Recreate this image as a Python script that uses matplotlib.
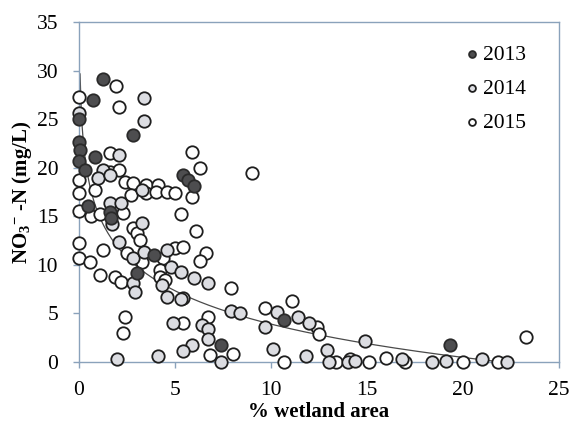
import numpy as np
import matplotlib
matplotlib.use("Agg")
import matplotlib.pyplot as plt

plt.rcParams['font.family'] = ['Liberation Serif', 'DejaVu Serif']
plt.rcParams['mathtext.fontset'] = 'custom'
plt.rcParams['mathtext.rm'] = 'Liberation Serif:bold'
plt.rcParams['mathtext.bf'] = 'Liberation Serif:bold'
plt.rcParams['mathtext.it'] = 'Liberation Serif:bold'

# ---- data ----
x2013 = [1.25, 0.73, 0.0, 0.0, 0.05, 0.0, 0.3, 0.83, 2.8, 5.4, 5.7, 6.0, 0.47, 1.6, 1.65, 3.9, 3.0, 7.4, 10.7, 19.3]
y2013 = [29.1, 27.0, 25.0, 22.6, 21.8, 20.7, 19.8, 21.1, 23.4, 19.3, 18.7, 18.1, 16.1, 15.4, 14.8, 11.0, 9.2, 1.8, 4.3, 1.8]

x2014 = [0.0, 3.4, 3.4, 2.1, 1.25, 1.0, 1.6, 3.3, 1.6, 2.2, 1.7, 3.3, 2.1, 2.8, 3.4, 4.6, 4.8, 5.3,
         2.8, 2.9, 4.3, 4.6, 5.3, 6.0, 6.7, 7.9, 8.4, 10.3, 11.4, 12.0, 9.7, 4.9, 6.4, 6.7, 6.7, 5.9,
         5.4, 4.1, 2.0, 7.4, 10.1, 11.8, 12.9, 13.0, 14.0, 14.4, 14.9, 16.8, 18.4, 19.1, 21.0, 22.3]
y2014 = [25.6, 27.2, 24.8, 21.3, 19.8, 18.9, 19.3, 17.7, 16.4, 16.4, 14.2, 14.3, 12.4, 10.7, 11.3, 11.5, 9.8, 9.3,
         8.1, 7.2, 7.9, 6.7, 6.5, 8.6, 8.1, 5.3, 5.0, 5.1, 4.6, 4.0, 3.6, 4.0, 3.8, 3.4, 2.4, 1.8,
         1.1, 0.6, 0.3, 0.0, 1.3, 0.6, 1.2, 0.0, 0.0, 0.1, 2.2, 0.3, 0.0, 0.1, 0.3, 0.0]

x2015 = [0.0, 1.93, 2.08, 1.6, 5.9, 6.3, 9.0, 1.6, 2.1, 0.0, 2.4, 2.8, 3.5, 4.1, 3.5, 4.0, 4.6, 5.0,
         2.7, 0.85, 0.0, 5.9, 0.0, 0.6, 1.1, 2.3, 5.3, 6.1, 2.8, 3.0, 3.2, 0.0, 0.0, 0.57, 1.25, 2.5,
         3.3, 5.0, 5.4, 6.6, 6.3, 4.4, 4.2, 4.2, 4.5, 1.9, 2.2, 1.1, 5.4, 7.9, 2.4, 2.3, 5.4, 6.7,
         8.0, 6.8, 9.7, 11.1, 12.4, 12.5, 10.7, 13.4, 14.1, 15.1, 16.0, 17.0, 20.0, 21.8, 23.3]
y2015 = [27.3, 28.4, 26.2, 21.5, 21.6, 20.0, 19.5, 19.6, 19.8, 18.7, 18.5, 18.4, 18.2, 18.2, 17.4, 17.5, 17.5, 17.4,
         17.2, 17.7, 17.4, 17.0, 15.5, 15.0, 15.2, 15.3, 15.2, 13.5, 13.8, 13.3, 12.6, 12.3, 10.7, 10.3, 11.5, 11.2,
         10.3, 11.7, 11.8, 11.2, 10.4, 10.7, 9.5, 8.8, 8.4, 8.8, 8.2, 9.0, 6.6, 7.6, 4.6, 3.0, 4.0, 4.6,
         0.8, 0.7, 5.6, 6.3, 3.6, 2.9, 0.0, 0.0, 0.35, 0.0, 0.4, 0.0, 0.0, 0.0, 2.6]

# logarithmic trend line: y = a - b ln(x)
trend_a = 15.3
trend_b = 4.95
trend_range = [0.055, 22.3]

series_labels = ['2013', '2014', '2015']
x_ticks = [0, 5, 10, 15, 20, 25]
y_ticks = [0, 5, 10, 15, 20, 25, 30, 35]

# ---- figure ----
fig = plt.figure(figsize=(5.82, 4.29), dpi=100)
ax = fig.add_axes([79/582, 1-362/429, (559-79)/582, (362-22)/429])

axis_col = '#8aa2bb'
edge_col = '#1e1e1e'

tx = np.linspace(trend_range[0], trend_range[1], 400)
ty = trend_a - trend_b * np.log(tx)
ax.plot(tx, ty, color='#4a4a4a', lw=0.9, zorder=2)

ms = 80
lw = 1.3
ax.scatter(x2015, y2015, s=ms, facecolor='white', edgecolor=edge_col, linewidth=lw, zorder=3, clip_on=False, label=series_labels[2])
ax.scatter(x2014, y2014, s=ms, facecolor='#dcdde2', edgecolor=edge_col, linewidth=lw, zorder=4, clip_on=False, label=series_labels[1])
ax.scatter(x2013, y2013, s=ms, facecolor='#4d4d4f', edgecolor='#2a2a2a', linewidth=lw, zorder=5, clip_on=False, label=series_labels[0])

ax.set_xlim(0, 25)
ax.set_ylim(0, 35)
ax.set_xticks(x_ticks)
ax.set_yticks(y_ticks)
ax.tick_params(axis='both', labelsize=15.5, color=axis_col, length=4, width=1, direction='out')
ax.tick_params(axis='x', pad=10)
ax.tick_params(axis='y', pad=11)
for s in ax.spines.values():
    s.set_color(axis_col)
    s.set_linewidth(1.0)

ax.set_xlabel('% wetland area', fontsize=15, fontweight='bold', labelpad=1)
ax.set_ylabel(r'NO$_3$$^{-}$ -N (mg/L)', fontsize=15, fontweight='bold')
ax.yaxis.set_label_coords(-0.094, 0.5)

handles, labels = ax.get_legend_handles_labels()
order = [2, 1, 0]
leg = ax.legend([handles[i] for i in order], [labels[i] for i in order],
                loc='upper left', bbox_to_anchor=(0.778, 0.958), frameon=False,
                fontsize=15.5, markerscale=0.55, handletextpad=0.0, labelspacing=0.64,
                handlelength=1.0, borderaxespad=0)

fig.savefig('out.png', dpi=100)
